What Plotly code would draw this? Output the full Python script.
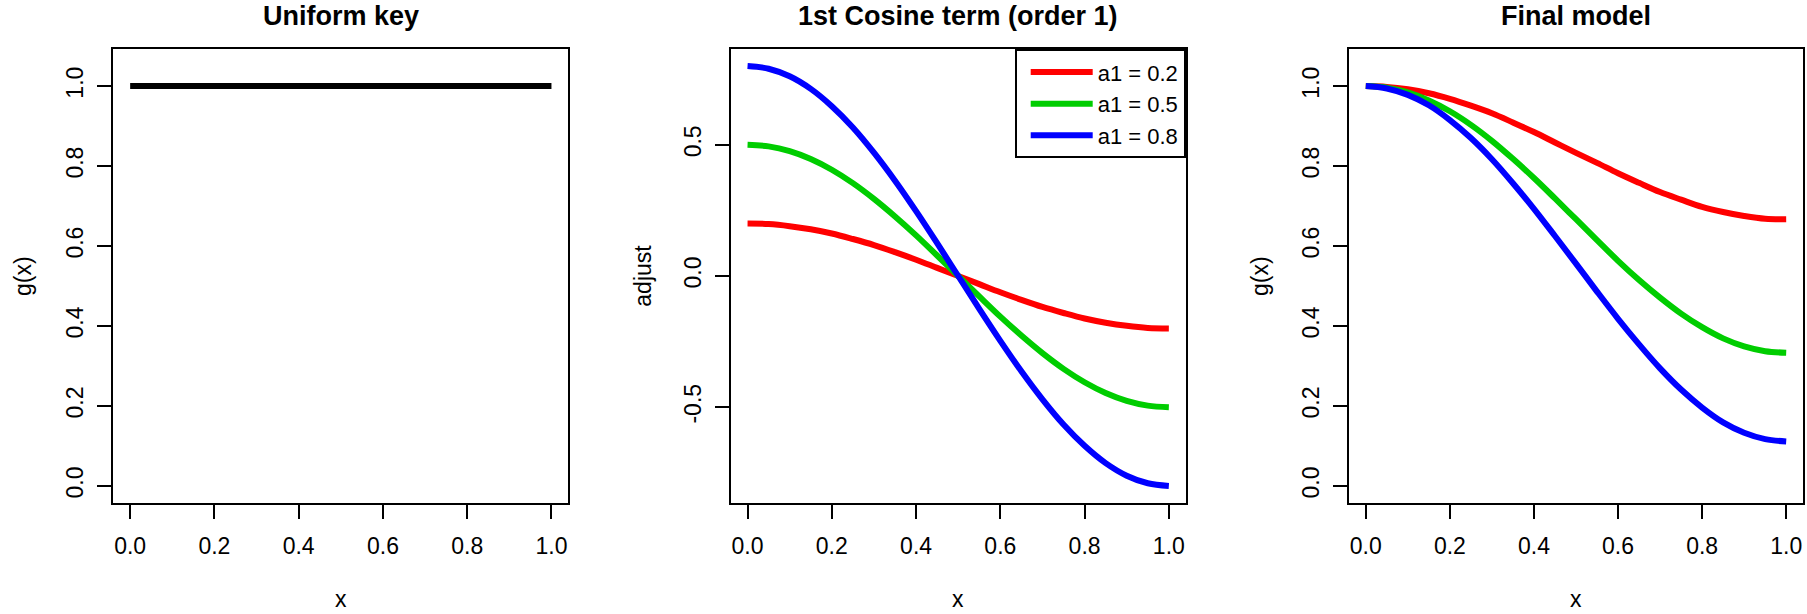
import plotly.graph_objects as go

# ---------------- data ----------------
x_grid = [0.00, 0.05, 0.10, 0.15, 0.20, 0.25, 0.30, 0.35, 0.40, 0.45, 0.50,
          0.55, 0.60, 0.65, 0.70, 0.75, 0.80, 0.85, 0.90, 0.95, 1.00]

uniform_x = [0.0, 1.0]
uniform_y = [1.0, 1.0]

series_names = ["a1 = 0.2", "a1 = 0.5", "a1 = 0.8"]
series_colors = ["#FF0000", "#00CD00", "#0000FF"]

adjust_02 = [0.200, 0.198, 0.190, 0.178, 0.162, 0.141, 0.118, 0.091, 0.062, 0.031, 0.000,
             -0.031, -0.062, -0.091, -0.118, -0.141, -0.162, -0.178, -0.190, -0.198, -0.200]
adjust_05 = [0.500, 0.494, 0.476, 0.446, 0.405, 0.354, 0.294, 0.227, 0.155, 0.078, 0.000,
             -0.078, -0.155, -0.227, -0.294, -0.354, -0.405, -0.446, -0.476, -0.494, -0.500]
adjust_08 = [0.800, 0.790, 0.761, 0.713, 0.647, 0.566, 0.470, 0.363, 0.247, 0.125, 0.000,
             -0.125, -0.247, -0.363, -0.470, -0.566, -0.647, -0.713, -0.761, -0.790, -0.800]

final_02 = [1.000, 0.998, 0.992, 0.982, 0.968, 0.951, 0.932, 0.909, 0.885, 0.859, 0.833,
            0.808, 0.782, 0.758, 0.735, 0.716, 0.698, 0.685, 0.675, 0.668, 0.667]
final_05 = [1.000, 0.996, 0.984, 0.964, 0.937, 0.903, 0.863, 0.818, 0.770, 0.719, 0.667,
            0.615, 0.563, 0.515, 0.471, 0.431, 0.397, 0.369, 0.349, 0.337, 0.333]
final_08 = [1.000, 0.994, 0.978, 0.952, 0.915, 0.870, 0.817, 0.757, 0.693, 0.625, 0.556,
            0.486, 0.418, 0.354, 0.294, 0.241, 0.196, 0.159, 0.133, 0.117, 0.111]

x_ticks = [0.0, 0.2, 0.4, 0.6, 0.8, 1.0]
x_tick_labels = ["0.0", "0.2", "0.4", "0.6", "0.8", "1.0"]
g_ticks = [0.0, 0.2, 0.4, 0.6, 0.8, 1.0]
g_tick_labels = ["0.0", "0.2", "0.4", "0.6", "0.8", "1.0"]
adj_ticks = [-0.5, 0.0, 0.5]
adj_tick_labels = ["-0.5", "0.0", "0.5"]

titles = ["Uniform key", "1st Cosine term (order 1)", "Final model"]
y_titles = ["g(x)", "adjust", "g(x)"]

# ---------------- figure ----------------
W, H = 1807, 614
FONT = "Liberation Sans, Arial, Helvetica, sans-serif"
TICK_SIZE = 23
TITLE_SIZE = 27
LW = 6

fig = go.Figure()

fig.add_trace(go.Scatter(x=uniform_x, y=uniform_y, mode="lines",
                         line=dict(color="black", width=LW), showlegend=False,
                         xaxis="x", yaxis="y"))

for name, col, ys in zip(series_names, series_colors, [adjust_02, adjust_05, adjust_08]):
    fig.add_trace(go.Scatter(x=x_grid, y=ys, mode="lines", name=name,
                             line=dict(color=col, width=LW, shape="spline"),
                             showlegend=True, xaxis="x2", yaxis="y2"))

for name, col, ys in zip(series_names, series_colors, [final_02, final_05, final_08]):
    fig.add_trace(go.Scatter(x=x_grid, y=ys, mode="lines", name=name,
                             line=dict(color=col, width=LW, shape="spline"),
                             showlegend=False, xaxis="x3", yaxis="y3"))

# panel boxes in pixels
boxes_px = [(113.3, 568.3), (730.7, 1185.7), (1349.0, 1803.0)]
top_px, bot_px = 49.3, 502.7
ydom = [(H - bot_px) / H, (H - top_px) / H]

common_axis = dict(showgrid=False, zeroline=False, showline=True, mirror=True,
                   linecolor="black", linewidth=2, ticks="outside", ticklen=14,
                   tickwidth=2, tickcolor="black",
                   tickfont=dict(family=FONT, size=TICK_SIZE, color="black"))

yranges = [[-0.042, 1.092], [-0.864, 0.864], [-0.042, 1.092]]
yticks = [(g_ticks, g_tick_labels), (adj_ticks, adj_tick_labels), (g_ticks, g_tick_labels)]

layout_axes = {}
for i, (l, r) in enumerate(boxes_px):
    sfx = "" if i == 0 else str(i + 1)
    layout_axes["xaxis" + sfx] = dict(common_axis, domain=[l / W, r / W], range=[-0.04, 1.04],
                                      tickvals=x_ticks, ticktext=x_tick_labels,
                                      ticklabelstandoff=8,
                                      anchor="y" + sfx)
    layout_axes["yaxis" + sfx] = dict(common_axis, domain=ydom, range=yranges[i],
                                      tickvals=yticks[i][0], ticktext=yticks[i][1],
                                      tickangle=-90, ticklabelstandoff=5,
                                      anchor="x" + sfx)

fig.update_layout(**layout_axes)

annotations = []
ytitle_px = [23.0, 642.7, 1260.0]
for i, (l, r) in enumerate(boxes_px):
    sfx = "" if i == 0 else str(i + 1)
    annotations.append(dict(text="<b>" + titles[i] + "</b>", xref="x" + sfx + " domain", x=0.5,
                            yref="paper", y=(H - 16) / H, xanchor="center", yanchor="middle",
                            showarrow=False,
                            font=dict(family=FONT, size=TITLE_SIZE, color="black")))
    annotations.append(dict(text="x", xref="x" + sfx + " domain", x=0.5,
                            yref="paper", y=0.0, xanchor="center", yanchor="bottom",
                            showarrow=False,
                            font=dict(family=FONT, size=TICK_SIZE, color="black")))
    annotations.append(dict(text=y_titles[i], xref="paper", x=ytitle_px[i] / W,
                            yref="paper", y=(ydom[0] + ydom[1]) / 2, xanchor="center",
                            yanchor="middle", textangle=-90, showarrow=False,
                            font=dict(family=FONT, size=TICK_SIZE, color="black")))

fig.update_layout(
    width=W, height=H, autosize=False,
    margin=dict(l=0, r=0, t=0, b=0),
    paper_bgcolor="white", plot_bgcolor="white",
    font=dict(family=FONT, size=TICK_SIZE, color="black"),
    annotations=annotations,
    legend=dict(x=boxes_px[1][1] / W, y=ydom[1], xanchor="right", yanchor="top",
                bgcolor="white", bordercolor="black", borderwidth=2,
                font=dict(family=FONT, size=22, color="black"),
                itemwidth=62, indentation=9, tracegroupgap=0),
    showlegend=True,
)

fig.write_html("out.html", config={"displayModeBar": False},
               post_script="document.body.style.margin='0';document.body.style.padding='0';"
                           "document.body.style.overflow='hidden';")
